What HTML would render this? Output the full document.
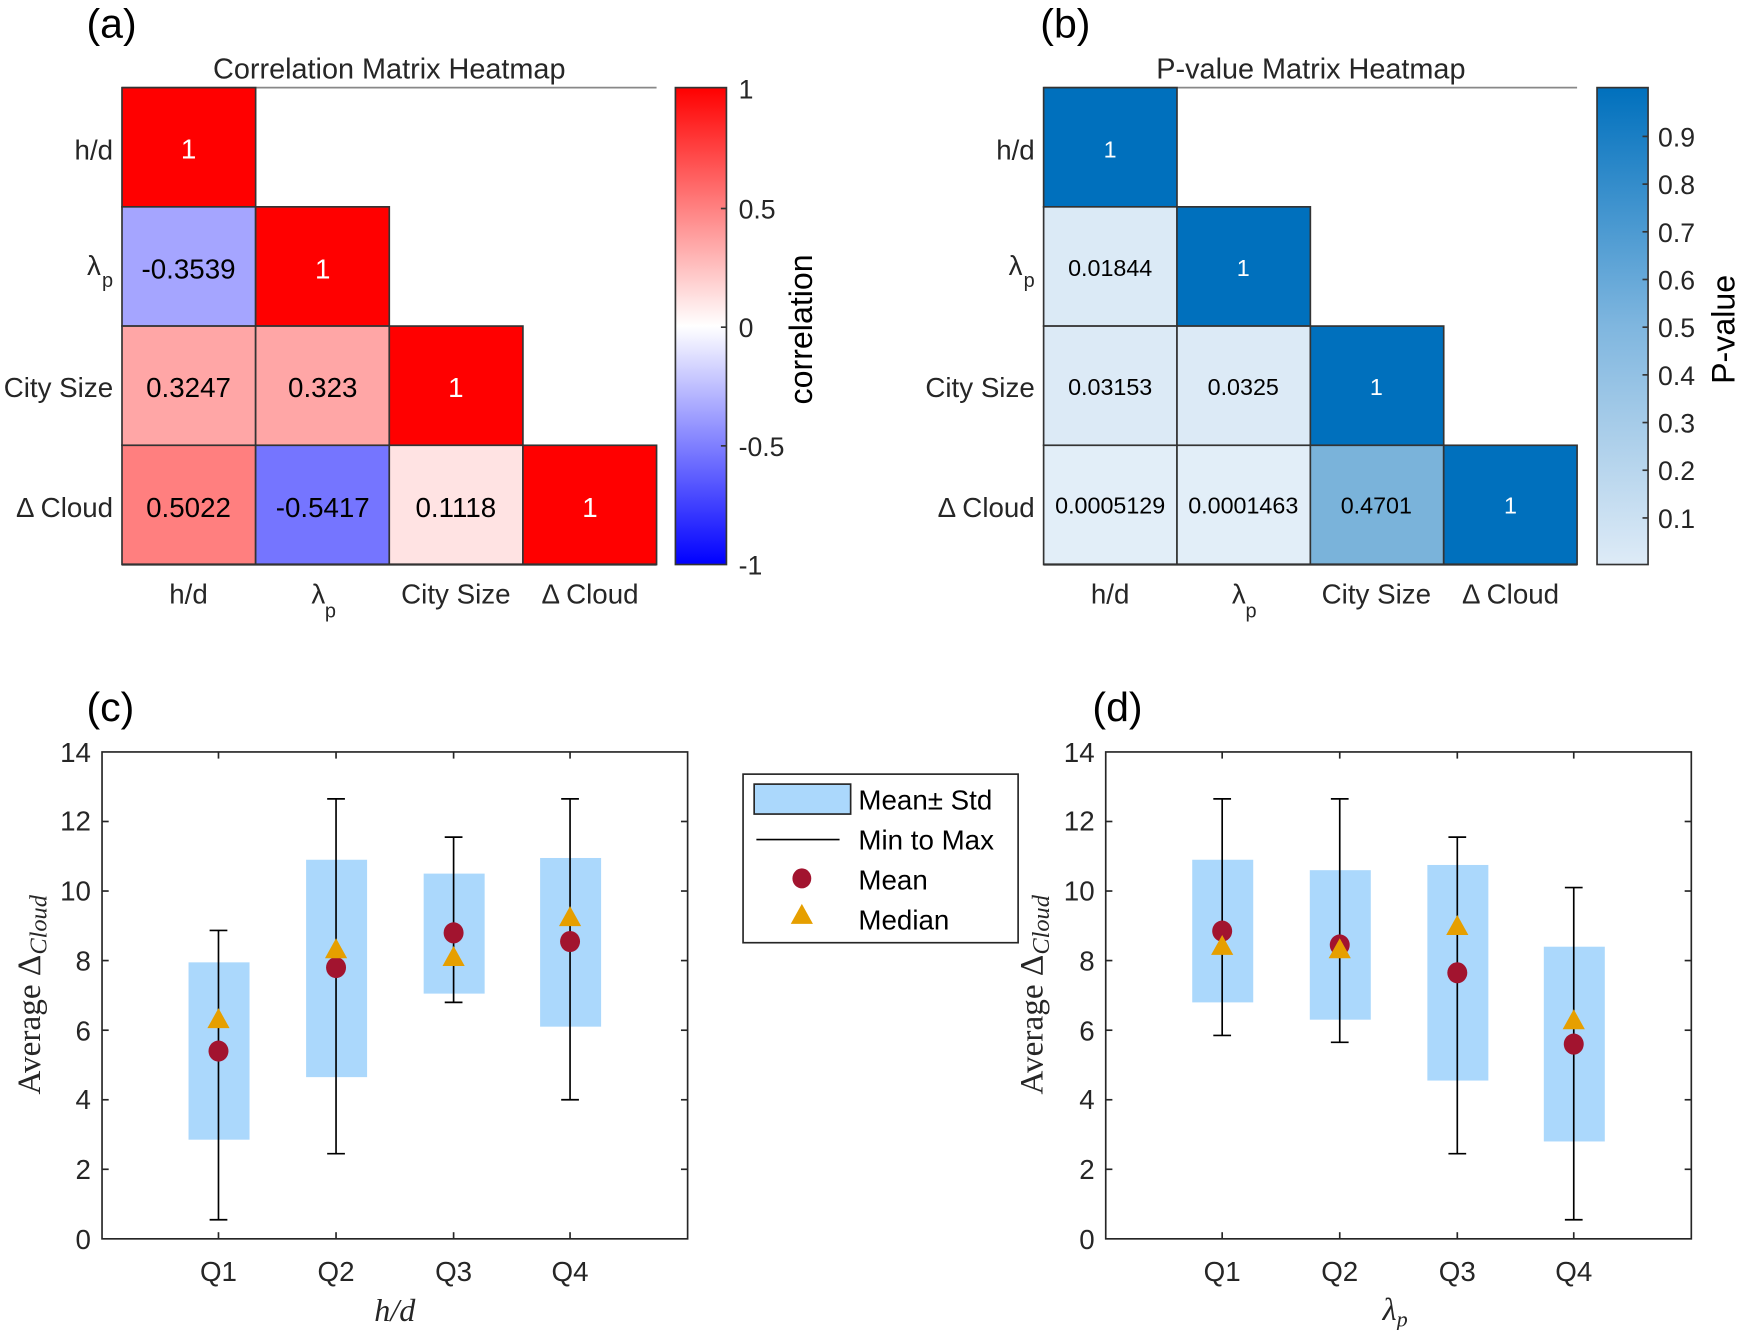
<!DOCTYPE html>
<html><head><meta charset="utf-8"><style>
html,body{margin:0;padding:0;background:#fff;}
svg{display:block;}
text{font-family:"Liberation Sans Narrow","Liberation Sans",sans-serif;fill:#262626;}
.ser{font-family:"Liberation Serif",serif;font-style:italic;}
.lab{font-family:"Liberation Sans",sans-serif;fill:#000;}
</style></head><body>
<svg width="1739" height="1330" viewBox="0 0 1568 1199.2" preserveAspectRatio="none" xmlns="http://www.w3.org/2000/svg">
<defs>
<linearGradient id="rb" x1="0" y1="1" x2="0" y2="0">
<stop offset="0" stop-color="#0000ff"/><stop offset="0.5" stop-color="#ffffff"/><stop offset="1" stop-color="#ff0000"/>
</linearGradient>
<linearGradient id="bl" x1="0" y1="1" x2="0" y2="0">
<stop offset="0" stop-color="#deebf7"/><stop offset="0.5" stop-color="#7fb6df"/><stop offset="1" stop-color="#0070bd"/>
</linearGradient>
</defs>

<text class="lab" x="78" y="34" font-size="37">(a)</text>
<text class="lab" x="938" y="34" font-size="37">(b)</text>
<text class="lab" x="78" y="650" font-size="37">(c)</text>
<text class="lab" x="985" y="650" font-size="37">(d)</text>

<!-- (a) -->
<text x="351" y="71" font-size="26" text-anchor="middle">Correlation Matrix Heatmap</text>
<line x1="110" y1="79" x2="592" y2="79" stroke="#888" stroke-width="1.5"/>
<g stroke="#333" stroke-width="1.5">
<rect x="110" y="79" width="120.5" height="107.5" fill="#ff0000"/>
<rect x="110" y="186.5" width="120.5" height="107.5" fill="#a5a5ff"/>
<rect x="230.5" y="186.5" width="120.5" height="107.5" fill="#ff0000"/>
<rect x="110" y="294" width="120.5" height="107.5" fill="#ffa6a6"/>
<rect x="230.5" y="294" width="120.5" height="107.5" fill="#ffa6a6"/>
<rect x="351" y="294" width="120.5" height="107.5" fill="#ff0000"/>
<rect x="110" y="401.5" width="120.5" height="107.5" fill="#ff7f7f"/>
<rect x="230.5" y="401.5" width="120.5" height="107.5" fill="#7575ff"/>
<rect x="351" y="401.5" width="120.5" height="107.5" fill="#ffe3e3"/>
<rect x="471.5" y="401.5" width="120.5" height="107.5" fill="#ff0000"/>
</g>
<line x1="110" y1="509" x2="592" y2="509" stroke="#333" stroke-width="2"/>
<g font-size="25" text-anchor="middle">
<text x="170" y="143" style="fill:#fff">1</text>
<text x="170" y="251" style="fill:#000">-0.3539</text>
<text x="291" y="251" style="fill:#fff">1</text>
<text x="170" y="358" style="fill:#000">0.3247</text>
<text x="291" y="358" style="fill:#000">0.323</text>
<text x="411" y="358" style="fill:#fff">1</text>
<text x="170" y="466" style="fill:#000">0.5022</text>
<text x="291" y="466" style="fill:#000">-0.5417</text>
<text x="411" y="466" style="fill:#000">0.1118</text>
<text x="532" y="466" style="fill:#fff">1</text>
</g>
<g font-size="25" text-anchor="end">
<text x="102" y="144">h/d</text>
<text x="91" y="248">λ</text><text x="102" y="259" font-size="18">p</text>
<text x="102" y="358">City Size</text>
<text x="102" y="466">Δ Cloud</text>
</g>
<g font-size="25" text-anchor="middle">
<text x="170" y="544">h/d</text>
<text x="287" y="544">λ</text><text x="298" y="557" font-size="18">p</text>
<text x="411" y="544">City Size</text>
<text x="532" y="544">Δ Cloud</text>
</g>
<rect x="609" y="79" width="46" height="430" fill="url(#rb)" stroke="#333" stroke-width="1.5"/>
<g stroke="#333" stroke-width="1.5">
<line x1="650" y1="188" x2="655" y2="188"/><line x1="650" y1="295" x2="655" y2="295"/><line x1="650" y1="402" x2="655" y2="402"/>
</g>
<g font-size="24">
<text x="666" y="89">1</text><text x="666" y="197">0.5</text><text x="666" y="304">0</text><text x="666" y="411">-0.5</text><text x="666" y="518">-1</text>
</g>
<text class="lab" font-size="29" transform="translate(732,297) rotate(-90)" text-anchor="middle">correlation</text>

<!-- (b) -->
<text x="1182" y="71" font-size="26" text-anchor="middle">P-value Matrix Heatmap</text>
<line x1="941" y1="79" x2="1422" y2="79" stroke="#888" stroke-width="1.5"/>
<g stroke="#333" stroke-width="1.5">
<rect x="941" y="79" width="120.25" height="107.5" fill="#0070bd"/>
<rect x="941" y="186.5" width="120.25" height="107.5" fill="#dbeaf6"/>
<rect x="1061.25" y="186.5" width="120.25" height="107.5" fill="#0070bd"/>
<rect x="941" y="294" width="120.25" height="107.5" fill="#dceaf6"/>
<rect x="1061.25" y="294" width="120.25" height="107.5" fill="#dceaf6"/>
<rect x="1181.5" y="294" width="120.25" height="107.5" fill="#0070bd"/>
<rect x="941" y="401.5" width="120.25" height="107.5" fill="#e2eef8"/>
<rect x="1061.25" y="401.5" width="120.25" height="107.5" fill="#e2eef8"/>
<rect x="1181.5" y="401.5" width="120.25" height="107.5" fill="#7ab3da"/>
<rect x="1301.75" y="401.5" width="120.25" height="107.5" fill="#0070bd"/>
</g>
<line x1="941" y1="509" x2="1422" y2="509" stroke="#333" stroke-width="2"/>
<g font-size="21" text-anchor="middle">
<text x="1001" y="142" style="fill:#fff">1</text>
<text x="1001" y="249" style="fill:#000">0.01844</text>
<text x="1121" y="249" style="fill:#fff">1</text>
<text x="1001" y="356" style="fill:#000">0.03153</text>
<text x="1121" y="356" style="fill:#000">0.0325</text>
<text x="1241" y="356" style="fill:#fff">1</text>
<text x="1001" y="463" style="fill:#000">0.0005129</text>
<text x="1121" y="463" style="fill:#000">0.0001463</text>
<text x="1241" y="463" style="fill:#000">0.4701</text>
<text x="1362" y="463" style="fill:#fff">1</text>
</g>
<g font-size="25" text-anchor="end">
<text x="933" y="144">h/d</text>
<text x="922" y="248">λ</text><text x="933" y="259" font-size="18">p</text>
<text x="933" y="358">City Size</text>
<text x="933" y="466">Δ Cloud</text>
</g>
<g font-size="25" text-anchor="middle">
<text x="1001" y="544">h/d</text>
<text x="1117" y="544">λ</text><text x="1128" y="557" font-size="18">p</text>
<text x="1241" y="544">City Size</text>
<text x="1362" y="544">Δ Cloud</text>
</g>
<rect x="1440" y="79" width="46" height="430" fill="url(#bl)" stroke="#333" stroke-width="1.5"/>
<g stroke="#333" stroke-width="1.5">
<line x1="1481" y1="467" x2="1486" y2="467"/><line x1="1481" y1="424" x2="1486" y2="424"/><line x1="1481" y1="381" x2="1486" y2="381"/>
<line x1="1481" y1="338" x2="1486" y2="338"/><line x1="1481" y1="295" x2="1486" y2="295"/><line x1="1481" y1="252" x2="1486" y2="252"/>
<line x1="1481" y1="209" x2="1486" y2="209"/><line x1="1481" y1="166" x2="1486" y2="166"/><line x1="1481" y1="123" x2="1486" y2="123"/>
</g>
<g font-size="24">
<text x="1495" y="476">0.1</text><text x="1495" y="433">0.2</text><text x="1495" y="390">0.3</text><text x="1495" y="347">0.4</text><text x="1495" y="304">0.5</text>
<text x="1495" y="261">0.6</text><text x="1495" y="218">0.7</text><text x="1495" y="175">0.8</text><text x="1495" y="132">0.9</text>
</g>
<text class="lab" font-size="29" transform="translate(1564,297) rotate(-90)" text-anchor="middle">P-value</text>

<!-- (c) -->
<rect x="92" y="678" width="528" height="439" fill="#fff" stroke="#262626" stroke-width="1.5"/>
<g fill="#abd8fc">
<rect x="170" y="867.7" width="55" height="159.9"/>
<rect x="276" y="775.2" width="55" height="196"/>
<rect x="382" y="787.7" width="55" height="108.2"/>
<rect x="487" y="773.6" width="55" height="152.1"/>
</g>
<g stroke="#000" stroke-width="1.5">
<line x1="197" y1="1099.8" x2="197" y2="838.9"/><line x1="189" y1="1099.8" x2="205" y2="1099.8"/><line x1="189" y1="838.9" x2="205" y2="838.9"/>
<line x1="303" y1="1040.2" x2="303" y2="720.3"/><line x1="295" y1="1040.2" x2="311" y2="1040.2"/><line x1="295" y1="720.3" x2="311" y2="720.3"/>
<line x1="409" y1="903.8" x2="409" y2="754.8"/><line x1="401" y1="903.8" x2="417" y2="903.8"/><line x1="401" y1="754.8" x2="417" y2="754.8"/>
<line x1="514" y1="991.6" x2="514" y2="720.3"/><line x1="506" y1="991.6" x2="522" y2="991.6"/><line x1="506" y1="720.3" x2="522" y2="720.3"/>
</g>
<g fill="#a2142f">
<ellipse cx="197" cy="947.7" rx="9" ry="9.5"/><ellipse cx="303" cy="872.4" rx="9" ry="9.5"/><ellipse cx="409" cy="841.1" rx="9" ry="9.5"/><ellipse cx="514" cy="848.9" rx="9" ry="9.5"/>
</g>
<g fill="#e69f00">
<path d="M197,909 l-10,18 h20z"/><path d="M303,846 l-10,18 h20z"/><path d="M409,853 l-10,18 h20z"/><path d="M514,817 l-10,18 h20z"/>
</g>
<g stroke="#262626" stroke-width="1.5">
<line x1="197" y1="678" x2="197" y2="684"/><line x1="303" y1="678" x2="303" y2="684"/><line x1="409" y1="678" x2="409" y2="684"/><line x1="514" y1="678" x2="514" y2="684"/>
<line x1="197" y1="1117" x2="197" y2="1111"/><line x1="303" y1="1117" x2="303" y2="1111"/><line x1="409" y1="1117" x2="409" y2="1111"/><line x1="514" y1="1117" x2="514" y2="1111"/>
<line x1="92" y1="1054.3" x2="98" y2="1054.3"/><line x1="92" y1="991.6" x2="98" y2="991.6"/><line x1="92" y1="928.9" x2="98" y2="928.9"/><line x1="92" y1="866.1" x2="98" y2="866.1"/><line x1="92" y1="803.4" x2="98" y2="803.4"/><line x1="92" y1="740.7" x2="98" y2="740.7"/>
<line x1="620" y1="1054.3" x2="614" y2="1054.3"/><line x1="620" y1="991.6" x2="614" y2="991.6"/><line x1="620" y1="928.9" x2="614" y2="928.9"/><line x1="620" y1="866.1" x2="614" y2="866.1"/><line x1="620" y1="803.4" x2="614" y2="803.4"/><line x1="620" y1="740.7" x2="614" y2="740.7"/>
</g>
<g font-size="25" text-anchor="end">
<text x="82" y="1126">0</text><text x="82" y="1063">2</text><text x="82" y="1000">4</text><text x="82" y="938">6</text><text x="82" y="875">8</text><text x="82" y="812">10</text><text x="82" y="749">12</text><text x="82" y="687">14</text>
</g>
<g font-size="25" text-anchor="middle">
<text x="197" y="1155">Q1</text><text x="303" y="1155">Q2</text><text x="409" y="1155">Q3</text><text x="514" y="1155">Q4</text>
</g>
<text class="ser" font-size="29" x="356" y="1191" text-anchor="middle">h/d</text>
<text class="ser" font-size="30" transform="translate(36,897) rotate(-90)" text-anchor="middle" style="font-style:normal">Average Δ<tspan font-size="22" font-style="italic" dy="6">Cloud</tspan></text>

<!-- (d) -->
<rect x="997" y="678" width="528" height="439" fill="#fff" stroke="#262626" stroke-width="1.5"/>
<g fill="#abd8fc">
<rect x="1075" y="775.2" width="55" height="128.6"/>
<rect x="1181" y="784.6" width="55" height="134.8"/>
<rect x="1287" y="779.9" width="55" height="194.4"/>
<rect x="1392" y="853.6" width="55" height="175.6"/>
</g>
<g stroke="#000" stroke-width="1.5">
<line x1="1102" y1="933.6" x2="1102" y2="720.3"/><line x1="1094" y1="933.6" x2="1110" y2="933.6"/><line x1="1094" y1="720.3" x2="1110" y2="720.3"/>
<line x1="1208" y1="939.8" x2="1208" y2="720.3"/><line x1="1200" y1="939.8" x2="1216" y2="939.8"/><line x1="1200" y1="720.3" x2="1216" y2="720.3"/>
<line x1="1314" y1="1040.2" x2="1314" y2="754.8"/><line x1="1306" y1="1040.2" x2="1322" y2="1040.2"/><line x1="1306" y1="754.8" x2="1322" y2="754.8"/>
<line x1="1419" y1="1099.8" x2="1419" y2="800.3"/><line x1="1411" y1="1099.8" x2="1427" y2="1099.8"/><line x1="1411" y1="800.3" x2="1427" y2="800.3"/>
</g>
<g fill="#a2142f">
<ellipse cx="1102" cy="839.5" rx="9" ry="9.5"/><ellipse cx="1208" cy="852" rx="9" ry="9.5"/><ellipse cx="1314" cy="877.1" rx="9" ry="9.5"/><ellipse cx="1419" cy="941.4" rx="9" ry="9.5"/>
</g>
<g fill="#e69f00">
<path d="M1102,843 l-10,18 h20z"/><path d="M1208,846 l-10,18 h20z"/><path d="M1314,825 l-10,18 h20z"/><path d="M1419,910 l-10,18 h20z"/>
</g>
<g stroke="#262626" stroke-width="1.5">
<line x1="1102" y1="678" x2="1102" y2="684"/><line x1="1208" y1="678" x2="1208" y2="684"/><line x1="1314" y1="678" x2="1314" y2="684"/><line x1="1419" y1="678" x2="1419" y2="684"/>
<line x1="1102" y1="1117" x2="1102" y2="1111"/><line x1="1208" y1="1117" x2="1208" y2="1111"/><line x1="1314" y1="1117" x2="1314" y2="1111"/><line x1="1419" y1="1117" x2="1419" y2="1111"/>
<line x1="997" y1="1054.3" x2="1003" y2="1054.3"/><line x1="997" y1="991.6" x2="1003" y2="991.6"/><line x1="997" y1="928.9" x2="1003" y2="928.9"/><line x1="997" y1="866.1" x2="1003" y2="866.1"/><line x1="997" y1="803.4" x2="1003" y2="803.4"/><line x1="997" y1="740.7" x2="1003" y2="740.7"/>
<line x1="1525" y1="1054.3" x2="1519" y2="1054.3"/><line x1="1525" y1="991.6" x2="1519" y2="991.6"/><line x1="1525" y1="928.9" x2="1519" y2="928.9"/><line x1="1525" y1="866.1" x2="1519" y2="866.1"/><line x1="1525" y1="803.4" x2="1519" y2="803.4"/><line x1="1525" y1="740.7" x2="1519" y2="740.7"/>
</g>
<g font-size="25" text-anchor="end">
<text x="987" y="1126">0</text><text x="987" y="1063">2</text><text x="987" y="1000">4</text><text x="987" y="938">6</text><text x="987" y="875">8</text><text x="987" y="812">10</text><text x="987" y="749">12</text><text x="987" y="687">14</text>
</g>
<g font-size="25" text-anchor="middle">
<text x="1102" y="1155">Q1</text><text x="1208" y="1155">Q2</text><text x="1314" y="1155">Q3</text><text x="1419" y="1155">Q4</text>
</g>
<text class="ser" font-size="29" x="1258" y="1190" text-anchor="middle">λ<tspan font-size="20" dy="6">p</tspan></text>
<text class="ser" font-size="30" transform="translate(940,897) rotate(-90)" text-anchor="middle" style="font-style:normal">Average Δ<tspan font-size="22" font-style="italic" dy="6">Cloud</tspan></text>

<!-- Legend -->
<rect x="670" y="698" width="248" height="152" fill="#fff" stroke="#262626" stroke-width="1.5"/>
<rect x="680" y="707" width="87" height="27" fill="#abd8fc" stroke="#262626" stroke-width="1.5"/>
<line x1="682" y1="757" x2="757" y2="757" stroke="#000" stroke-width="1.5"/>
<ellipse cx="723" cy="792" rx="8.5" ry="9" fill="#a2142f"/>
<path d="M723,815 l-10,18 h20z" fill="#e69f00"/>
<g font-size="25">
<text x="774" y="730" style="fill:#000">Mean± Std</text>
<text x="774" y="766" style="fill:#000">Min to Max</text>
<text x="774" y="802" style="fill:#000">Mean</text>
<text x="774" y="838" style="fill:#000">Median</text>
</g>
</svg>
</body></html>
